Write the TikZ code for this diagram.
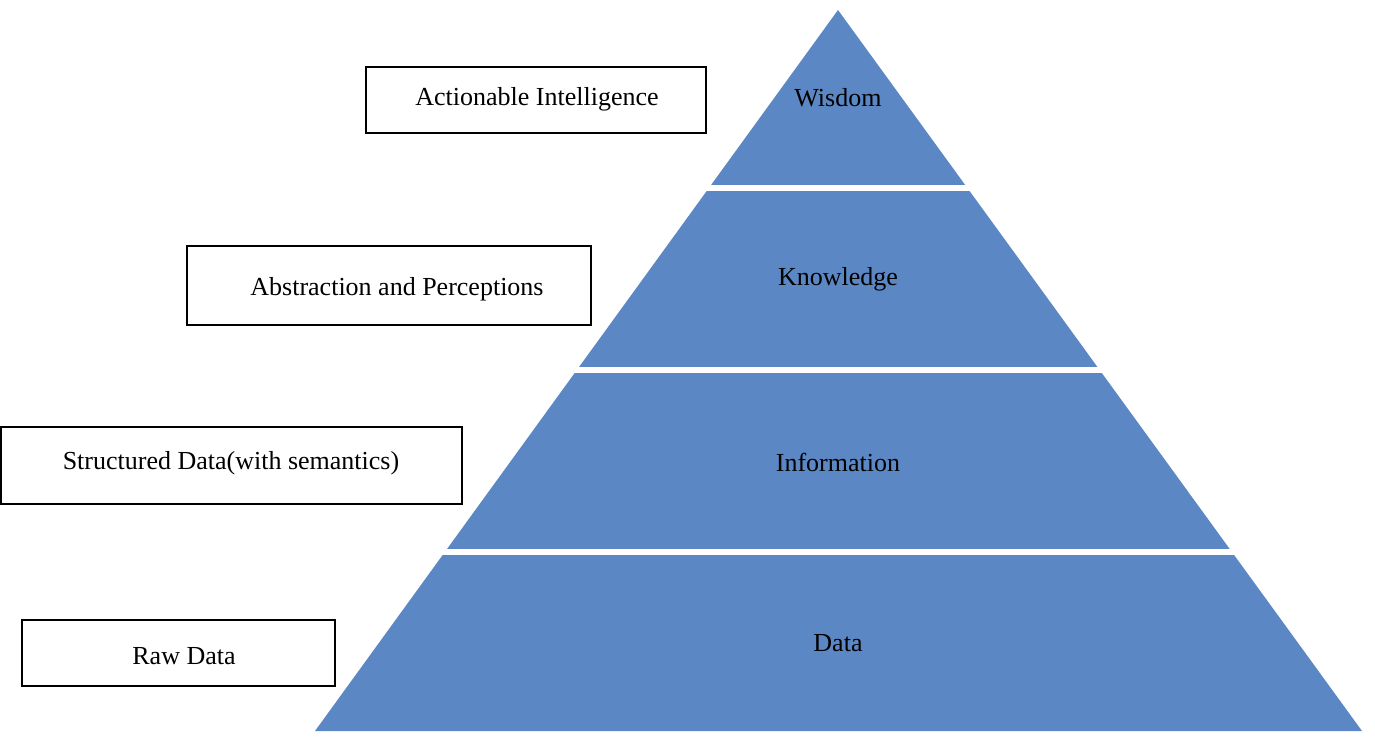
\documentclass[tikz,border=0pt]{standalone}
\usepackage{fontspec}
\setmainfont{Liberation Serif}
\begin{document}
\begin{tikzpicture}[x=1pt,y=-1pt,
  lbl/.style={font=\fontsize{26}{30}\selectfont, inner sep=0pt},
  box/.style={draw=black, line width=2.5pt}]
\useasboundingbox (0,0) rectangle (1375,738);
\definecolor{pyr}{HTML}{5B88C5}
\fill[pyr] (838,10) -- (1362,731) -- (315,731) -- cycle;
\foreach \y in {188,370,552} \draw[white, line width=6pt] (300,\y) -- (1375,\y);
\node[lbl] (w) at (838,98) {Wisdom};
\node[lbl] (k) at (838,279) {Knowledge};
\node[lbl] (i) at (838,462) {Information};
\node[lbl] (d) at (838,643) {Data};
\draw[box] (366,67) rectangle (706,133);
\node[lbl] (t1) at (537,99) {Actionable Intelligence};
\draw[box] (187,246) rectangle (591,325);
\node[lbl] (t2) at (397,289) {Abstraction and Perceptions};
\draw[box] (1,427) rectangle (462,504);
\node[lbl] (t3) at (231,463) {Structured Data(with semantics)};
\draw[box] (22,620) rectangle (335,686);
\node[lbl] (t4) at (184,656) {Raw Data};
\end{tikzpicture}
\end{document}
